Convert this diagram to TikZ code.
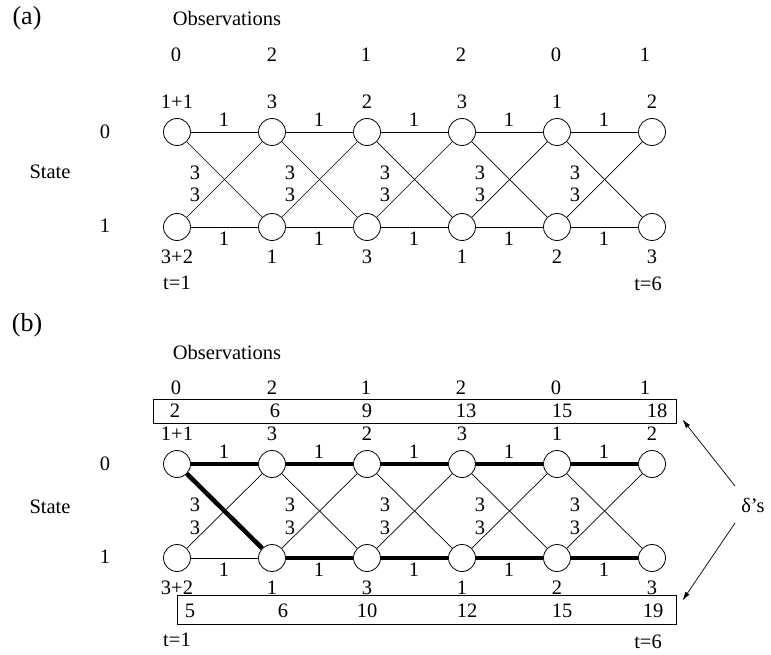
\documentclass[tikz,border=0pt]{standalone}
\usepackage{fontspec}
\setmainfont{Liberation Serif}
\usetikzlibrary{arrows.meta}
\begin{document}
\begin{tikzpicture}[x=1pt,y=-1pt,
  st/.style={circle,draw,line width=0.8pt,minimum size=27pt,inner sep=0pt},
  lbl/.style={inner sep=0pt,font=\fontsize{20.5}{24}\selectfont},
  big/.style={inner sep=0pt,font=\fontsize{26}{30}\selectfont},
  thin/.style={line width=0.7pt},
  bold/.style={line width=4.5pt},
  box/.style={draw,line width=0.8pt,inner sep=0pt},
  arr/.style={line width=0.7pt,-{Latex[length=9pt,width=5pt]}}
]
\useasboundingbox (0,0) rectangle (771,655);
% ---------- (a) ----------
\node[big] (la) at (27,18) {(a)};
\begin{scope}[name prefix=a-]
\node[lbl] (obs) at (227,18) {Observations};
\node[lbl] (state) at (50,172) {State};
\node[lbl] (s0) at (105,132) {0};
\node[lbl] (s1) at (105,226) {1};
\foreach \i/\o/\u/\d/\xo in {1/0/1+1/3+2/176,2/2/3/1/272,3/1/2/3/366,4/2/3/1/461,5/0/1/2/556,6/1/2/3/645}{
  \pgfmathsetmacro\cx{177+95*(\i-1)}
  \node[st] (t\i) at (\cx,132) {};
  \node[st] (b\i) at (\cx,227) {};
  \node[lbl] (o\i) at (\xo,55) {\o};
  \node[lbl] (u\i) at (\cx,102) {\u};
  \node[lbl] (d\i) at (\cx,257) {\d};
}
\foreach \i [evaluate=\i as \j using int(\i+1)] in {1,...,5}{
  \pgfmathsetmacro\cx{177+95*(\i-1)}
  \draw[thin] (t\i) -- (t\j);
  \draw[thin] (b\i) -- (b\j);
  \draw[thin] (t\i) -- (b\j);
  \draw[thin] (b\i) -- (t\j);
  \node[lbl] (et\i) at (\cx+47,120) {1};
  \node[lbl] (eb\i) at (\cx+47,239) {1};
  \node[lbl] (cu\i) at (\cx+18,173) {3};
  \node[lbl] (cd\i) at (\cx+18,195) {3};
}
\node[lbl] (t1lab) at (177,283) {t=1};
\node[lbl] (t6lab) at (648,284) {t=6};
\end{scope}
% ---------- (b) ----------
\node[big] (lb) at (27,325) {(b)};
\begin{scope}[name prefix=b-]
\node[lbl] (obs) at (227,352) {Observations};
\node[lbl] (state) at (50,507) {State};
\node[lbl] (s0) at (105,464) {0};
\node[lbl] (s1) at (105,557) {1};
\node[box,minimum width=523pt,minimum height=24pt] (topbox) at (414.5,411) {};
\node[box,minimum width=499pt,minimum height=29pt] (botbox) at (426.5,609.5) {};
\foreach \i/\o/\u/\d/\dt/\db/\xt/\xb/\xo in {1/0/1+1/3+2/2/5/175/190/176,2/2/3/1/6/6/275/283/272,3/1/2/3/9/10/367/367/366,4/2/3/1/13/12/466/467/461,5/0/1/2/15/15/562/562/556,6/1/2/3/18/19/657/653/645}{
  \pgfmathsetmacro\cx{177+95*(\i-1)}
  \node[st] (t\i) at (\cx,464) {};
  \node[st] (b\i) at (\cx,558) {};
  \node[lbl] (o\i) at (\xo,388) {\o};
  \node[lbl] (u\i) at (\cx,434) {\u};
  \node[lbl] (d\i) at (\cx,588) {\d};
  \node[lbl] (vt\i) at (\xt,411) {\dt};
  \node[lbl] (vb\i) at (\xb,611) {\db};
}
\foreach \i [evaluate=\i as \j using int(\i+1)] in {1,...,5}{
  \pgfmathsetmacro\cx{177+95*(\i-1)}
  \draw[thin] (t\i) -- (t\j);
  \draw[thin] (b\i) -- (b\j);
  \draw[thin] (t\i) -- (b\j);
  \draw[thin] (b\i) -- (t\j);
  \draw[bold] (t\i) -- (t\j);
  \node[lbl] (et\i) at (\cx+47,452) {1};
  \node[lbl] (eb\i) at (\cx+47,570) {1};
  \node[lbl] (cu\i) at (\cx+18,505) {3};
  \node[lbl] (cd\i) at (\cx+18,528) {3};
}
\draw[bold] (t1) -- (b2);
\foreach \i [evaluate=\i as \j using int(\i+1)] in {2,...,5}{
  \draw[bold] (b\i) -- (b\j);
}
\node[lbl] (t1lab) at (177,640) {t=1};
\node[lbl] (t6lab) at (648,642) {t=6};
\node[lbl] (delta) at (753,505) {δ’s};
\coordinate (dtop) at (735,486);
\coordinate (dbot) at (735,523);
\draw[arr] (dtop) -- ([xshift=6pt,yshift=4pt]topbox.south east);
\draw[arr] (dbot) -- ([xshift=6pt,yshift=-6pt]botbox.north east);
\end{scope}
\end{tikzpicture}
\end{document}
